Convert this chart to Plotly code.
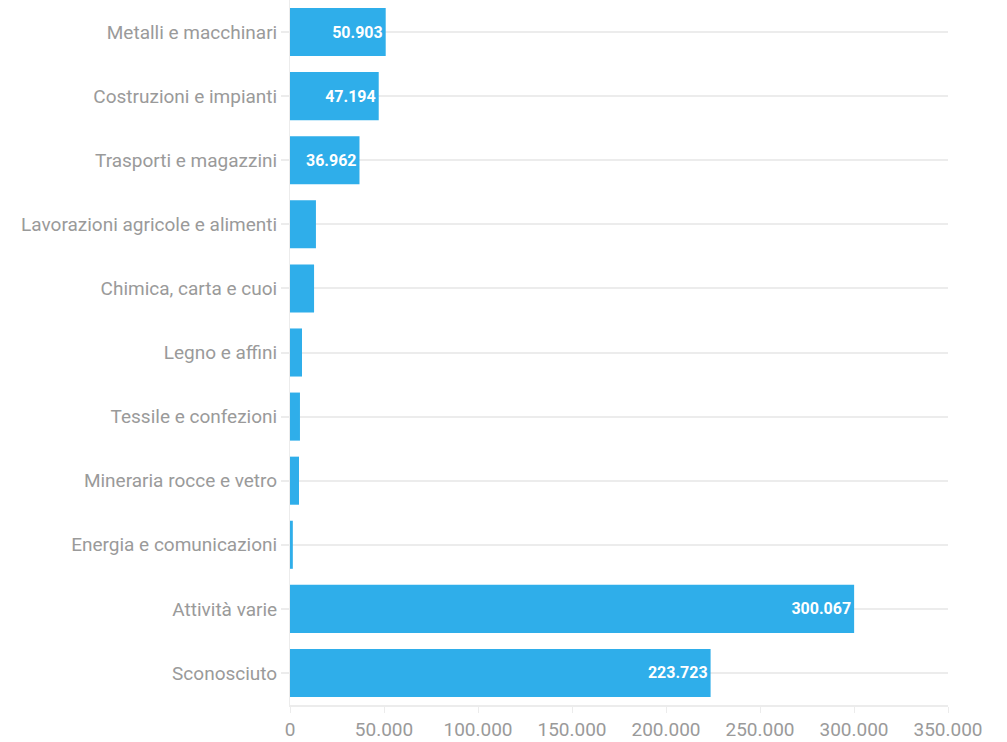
import plotly.graph_objects as go

categories = [
    "Metalli e macchinari",
    "Costruzioni e impianti",
    "Trasporti e magazzini",
    "Lavorazioni agricole e alimenti",
    "Chimica, carta e cuoi",
    "Legno e affini",
    "Tessile e confezioni",
    "Mineraria rocce e vetro",
    "Energia e comunicazioni",
    "Attività varie",
    "Sconosciuto",
]
values = [50903, 47194, 36962, 13800, 12800, 6400, 5300, 4800, 1500, 300067, 223723]
labelled = [True, True, True, False, False, False, False, False, False, True, True]
tick_vals = [0, 50000, 100000, 150000, 200000, 250000, 300000, 350000]

FONT = "Roboto, Open Sans, sans-serif"

texts = [f"{v:,}".replace(",", ".") if show else "" for v, show in zip(values, labelled)]

fig = go.Figure(
    go.Bar(
        y=categories,
        x=values,
        orientation="h",
        marker=dict(color="#2faeea", line=dict(width=0)),
        text=texts,
        textposition="inside",
        insidetextanchor="end",
        textfont=dict(family=FONT, size=16, color="white", weight="bold"),
        cliponaxis=False,
    )
)

fig.update_layout(
    width=1007,
    height=742,
    margin=dict(l=290, r=59, t=0, b=37),
    paper_bgcolor="white",
    plot_bgcolor="white",
    bargap=0.25,
    separators=",.",
    showlegend=False,
    font=dict(family=FONT, color="#9a9a9a"),
)

fig.update_yaxes(
    autorange="reversed",
    showgrid=True,
    gridcolor="#ececec",
    gridwidth=2,
    ticks="outside",
    ticklen=8,
    tickcolor="#ececec",
    tickwidth=2,
    showline=True,
    linecolor="#ececec",
    linewidth=1,
    tickfont=dict(size=19, color="#9a9a9a"),
    ticklabelstandoff=0,
)

fig.update_xaxes(
    range=[0, 350000],
    tickvals=tick_vals,
    tickformat=",d",
    showgrid=False,
    zeroline=False,
    showline=True,
    linecolor="#ececec",
    linewidth=2,
    ticks="outside",
    ticklen=6,
    tickcolor="#ececec",
    tickfont=dict(size=19, color="#9a9a9a"),
)

fig.write_html("out.html")
